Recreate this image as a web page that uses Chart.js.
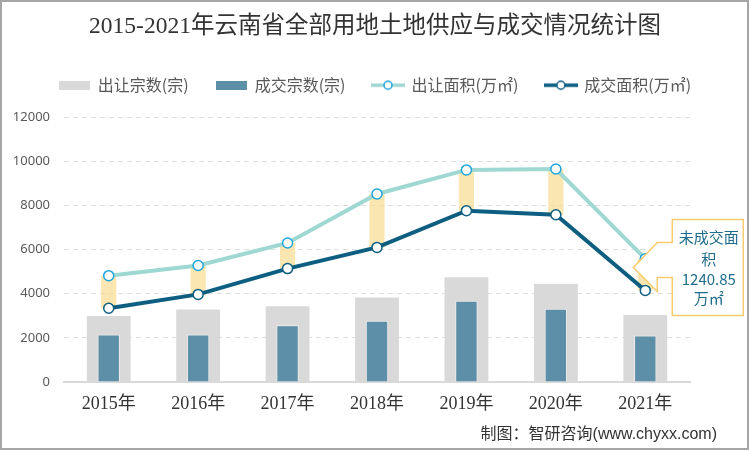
<!DOCTYPE html>
<html>
<head>
<meta charset="utf-8">
<script src="https://cdn.jsdelivr.net/npm/chart.js@4.4.0/dist/chart.umd.min.js"></script>
<style>
body { margin: 0; background: #fff; }
</style>
</head>
<body>
<canvas id="landChart" width="750" height="451"></canvas>
<script>
const years = ["2015年", "2016年", "2017年", "2018年", "2019年", "2020年", "2021年"];
const supplyCount = [2990, 3290, 3430, 3830, 4750, 4450, 3040];
const dealCount = [2150, 2150, 2570, 2780, 3685, 3320, 2105];
const supplyArea = [4820, 5280, 6300, 8520, 9610, 9650, 5590];
const dealArea = [3340, 3970, 5140, 6100, 7760, 7580, 4150];
const unsoldNote = ["未成交面", "积", "1240.85", "万㎡"];
const seriesNames = ["出让宗数(宗)", "成交宗数(宗)", "出让面积(万㎡)", "成交面积(万㎡)"];

const SANS = '"Noto Sans", "Noto Sans CJK SC", sans-serif';
const CJK = '"Noto Sans CJK SC", sans-serif';
const SERIF = '"Liberation Serif", "Noto Sans CJK SC", serif';

const GRAY = "#D9D9D9";
const BLUE = "#5D90A8";
const LIGHT_LINE = "#9FD8D2";
const LIGHT_RING = "#20A4DC";
const DARK_LINE = "#0D5E80";
const GAP_FILL = "rgba(248, 221, 150, 0.75)";

const LEGEND_H = 67;

function makeBoxIcon(color) {
    const c = document.createElement("canvas");
    c.width = 31;
    c.height = 9;
    const ctx = c.getContext("2d");
    ctx.fillStyle = color;
    ctx.fillRect(0, 0, 31, 9);
    return c;
}

function makeLineIcon(lineColor, ringColor) {
    const c = document.createElement("canvas");
    c.width = 34;
    c.height = 12;
    const ctx = c.getContext("2d");
    ctx.strokeStyle = lineColor;
    ctx.lineWidth = 3.5;
    ctx.beginPath();
    ctx.moveTo(0, 6);
    ctx.lineTo(34, 6);
    ctx.stroke();
    ctx.fillStyle = "#fff";
    ctx.strokeStyle = ringColor;
    ctx.lineWidth = 1.5;
    ctx.beginPath();
    ctx.arc(17, 6, 4, 0, Math.PI * 2);
    ctx.fill();
    ctx.stroke();
    return c;
}

const legendIcons = [
    makeBoxIcon(GRAY),
    makeBoxIcon(BLUE),
    makeLineIcon(LIGHT_LINE, LIGHT_RING),
    makeLineIcon(DARK_LINE, DARK_LINE)
];

const extras = {
    id: "extras",
    beforeLayout(chart) {
        const legend = chart.legend;
        if (legend && !legend._patched) {
            const fit = legend.fit;
            legend.fit = function () {
                fit.call(this);
                this.height = LEGEND_H;
            };
            legend._patched = true;
        }
    },
    beforeDraw(chart) {
        const ctx = chart.ctx;
        ctx.save();
        ctx.fillStyle = "#fff";
        ctx.fillRect(0, 0, chart.width, chart.height);
        ctx.restore();
    },
    afterDraw(chart) {
        const ctx = chart.ctx;
        const x = chart.scales.x;
        const y = chart.scales.y;
        const last = years.length - 1;

        // callout for the unsold area
        const tx = x.getPixelForValue(last) - 12;
        const ty = y.getPixelForValue((supplyArea[last] + dealArea[last]) / 2) - 7;
        const left = tx + 39, right = tx + 110, top = ty - 48, bottom = ty + 48;
        ctx.save();
        ctx.beginPath();
        ctx.moveTo(left, top);
        ctx.lineTo(right, top);
        ctx.lineTo(right, bottom);
        ctx.lineTo(left, bottom);
        ctx.lineTo(left, ty + 10);
        ctx.lineTo(tx + 24, ty + 10);
        ctx.lineTo(tx + 24, ty + 24);
        ctx.lineTo(tx, ty);
        ctx.lineTo(tx + 24, ty - 25);
        ctx.lineTo(left, ty - 25);
        ctx.closePath();
        ctx.fillStyle = "#fff";
        ctx.fill();
        ctx.strokeStyle = "#F8CC6E";
        ctx.lineWidth = 1.5;
        ctx.stroke();

        ctx.fillStyle = "#1F6B8C";
        ctx.font = "15px " + CJK;
        ctx.textAlign = "center";
        ctx.textBaseline = "middle";
        const cx = (left + right) / 2 + 1;
        const rows = [top + 18, top + 40, top + 60, top + 79];
        unsoldNote.forEach((t, i) => ctx.fillText(t, cx, rows[i]));

        // source note
        ctx.fillStyle = "#333";
        ctx.font = "16px " + '"Liberation Sans", "Noto Sans CJK SC", sans-serif';
        ctx.textAlign = "right";
        ctx.fillText("制图：智研咨询(www.chyxx.com)", 717, 435);

        // frame
        ctx.strokeStyle = "#A6A6A6";
        ctx.lineWidth = 2;
        ctx.strokeRect(1, 1, chart.width - 3, chart.height - 3);
        ctx.restore();
    }
};

const ctx = document.getElementById("landChart").getContext("2d");
const landChart = new Chart(ctx, {
    type: "bar",
    data: {
        labels: years,
        datasets: [
            {
                label: seriesNames[0],
                data: supplyCount,
                backgroundColor: GRAY,
                grouped: false,
                barPercentage: 0.49,
                categoryPercentage: 1,
                order: 5
            },
            {
                label: seriesNames[1],
                data: dealCount,
                backgroundColor: BLUE,
                borderColor: "rgba(255,255,255,0.55)",
                borderWidth: 1,
                grouped: false,
                barPercentage: 0.25,
                categoryPercentage: 1,
                order: 4
            },
            {
                type: "line",
                label: seriesNames[2],
                data: supplyArea,
                borderColor: LIGHT_LINE,
                borderWidth: 4,
                pointRadius: 5,
                pointBackgroundColor: "#fff",
                pointBorderColor: LIGHT_RING,
                pointBorderWidth: 1.5,
                tension: 0,
                order: 2
            },
            {
                type: "line",
                label: seriesNames[3],
                data: dealArea,
                borderColor: DARK_LINE,
                borderWidth: 4,
                pointRadius: 5,
                pointBackgroundColor: "#fff",
                pointBorderColor: DARK_LINE,
                pointBorderWidth: 1.5,
                tension: 0,
                order: 1
            },
            {
                label: "gap",
                data: dealArea.map((v, i) => [v, supplyArea[i]]),
                backgroundColor: GAP_FILL,
                grouped: false,
                barPercentage: 0.17,
                categoryPercentage: 1,
                order: 3
            }
        ]
    },
    options: {
        responsive: false,
        animation: false,
        devicePixelRatio: 1,
        layout: { padding: 0 },
        plugins: {
            tooltip: { enabled: false },
            title: {
                display: true,
                text: "2015-2021年云南省全部用地土地供应与成交情况统计图",
                color: "#333",
                font: { family: SERIF, size: 23.5, weight: "normal" },
                padding: { top: 13, bottom: 9 }
            },
            legend: {
                labels: {
                    color: "#595959",
                    font: { family: CJK, size: 16 },
                    usePointStyle: true,
                    pointStyleWidth: 31,
                    padding: 27,
                    filter: item => item.datasetIndex < 4,
                    sort: (a, b) => a.datasetIndex - b.datasetIndex,
                    generateLabels(chart) {
                        const items = Chart.defaults.plugins.legend.labels.generateLabels(chart);
                        items.forEach(item => {
                            if (legendIcons[item.datasetIndex]) {
                                item.pointStyle = legendIcons[item.datasetIndex];
                            }
                        });
                        return items;
                    }
                }
            }
        },
        scales: {
            x: {
                grid: { display: false, drawTicks: false },
                border: { color: GRAY, width: 2 },
                ticks: { color: "#333", font: { family: SERIF, size: 18 }, padding: 11 },
                afterFit(scale) { scale.height = 69; }
            },
            y: {
                min: 0,
                max: 12000,
                ticks: {
                    stepSize: 2000,
                    color: "#595959",
                    font: { family: SANS, size: 13 },
                    padding: 14,
                    callback: v => String(v)
                },
                grid: {
                    drawTicks: false,
                    color: c => (c.tick && c.tick.value === 0 ? "rgba(0,0,0,0)" : "#DEDEDE"),
                    lineWidth: 1
                },
                border: { display: false, dash: [5, 4] },
                afterFit(scale) { scale.width = 64; }
            },
            spacer: {
                position: "right",
                grid: { display: false, drawTicks: false },
                border: { display: false },
                ticks: { display: false },
                afterFit(scale) { scale.width = 60; }
            }
        }
    },
    plugins: [extras]
});
</script>
</body>
</html>
